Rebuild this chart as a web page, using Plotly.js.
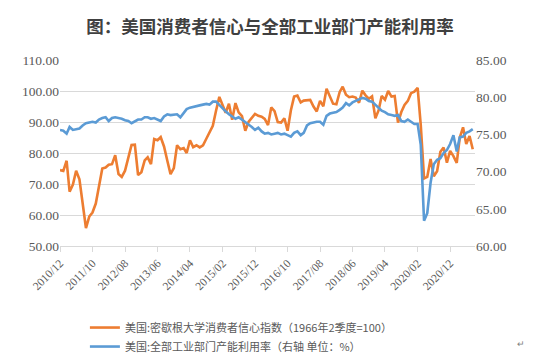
<!DOCTYPE html>
<html>
<head>
<meta charset="utf-8">
<script src="https://cdn.plot.ly/plotly-3.0.1.min.js"></script>
<style>html,body{margin:0;padding:0;background:#fff;}#chart{width:540px;height:364px;}</style>
</head>
<body>
<div id="chart"></div>
<script>
// Monthly, 2010/12 .. 2021/07
const startYear = 2010, startMonth = 12;
const sentiment = [
  74.5,
  74.2, 77.5, 67.5, 69.8, 74.3, 71.5, 63.7, 55.8, 59.5, 60.8, 63.7, 69.9,
  75.0, 75.3, 76.2, 76.4, 79.3, 73.2, 72.3, 74.3, 78.3, 82.6, 82.7, 72.9,
  73.8, 77.6, 78.6, 76.4, 84.5, 84.1, 85.1, 82.1, 77.5, 73.2, 75.1, 82.5,
  81.2, 81.6, 80.0, 84.1, 81.9, 82.5, 81.8, 82.5, 84.6, 86.9, 88.8, 93.6,
  98.1, 95.4, 93.0, 95.9, 90.7, 96.1, 93.1, 91.9, 87.2, 90.0, 91.3, 92.6,
  92.0, 91.7, 91.0, 89.0, 94.7, 93.5, 90.0, 89.8, 91.2, 87.2, 93.8, 98.2,
  98.5, 96.3, 96.9, 97.0, 97.1, 95.0, 93.4, 96.8, 95.1, 100.7, 98.5, 95.9,
  95.7, 99.7, 101.4, 98.8, 98.0, 98.2, 97.9, 96.2, 100.1, 98.6, 97.5, 98.3,
  91.2, 93.8, 98.4, 97.2, 100.0, 98.2, 98.4, 89.8, 93.2, 95.5, 96.8, 99.3,
  99.8, 101.0, 89.1, 71.8, 72.3, 78.1, 72.5, 74.1, 80.4, 81.8, 76.9, 80.7,
  79.0, 76.8, 84.9, 88.3, 82.9, 85.5, 81.2
];
const capacity = [
  75.6,
  75.5, 75.1, 76.0, 75.6, 75.7, 75.8, 76.2, 76.5, 76.6, 76.7, 76.6, 77.0,
  77.2, 77.3, 76.8, 77.2, 77.3, 77.2, 77.1, 76.9, 76.8, 76.5, 76.8, 77.0,
  77.0, 77.3, 77.3, 77.1, 77.2, 77.0, 76.8, 77.4, 77.7, 77.6, 77.6, 77.7,
  77.3, 77.9, 78.4, 78.6, 78.7, 78.9, 78.9, 79.0, 79.1, 79.0, 79.4, 79.4,
  78.9, 78.5, 78.1, 77.7, 77.4, 77.1, 77.3, 77.0, 76.7, 76.4, 76.0, 75.6,
  75.9, 75.4, 75.1, 75.2, 75.0, 75.1, 75.2, 75.0, 75.1, 74.9, 74.7, 75.2,
  75.4, 74.9, 75.2, 76.2, 76.5, 76.6, 76.7, 76.7, 76.3, 77.5, 77.8, 77.9,
  78.0, 78.3, 78.6, 79.2, 78.9, 79.3, 79.5, 79.8, 79.9, 79.8, 79.5, 79.4,
  79.0, 78.6, 78.2, 78.0, 77.7, 77.6, 77.5, 77.6, 76.8, 76.7, 77.0, 76.7,
  76.4, 76.4, 73.6, 63.4, 64.4, 68.5, 71.0, 71.6, 71.8, 72.5, 72.9, 73.7,
  74.9, 72.7, 74.6, 74.7, 75.2, 75.4, 75.7
];
const tickLabels = ['2010/12','2011/10','2012/08','2013/06','2014/04','2015/02','2015/12','2016/10','2017/08','2018/06','2019/04','2020/02','2020/12'];
const seriesNames = ['美国:密歇根大学消费者信心指数（1966年2季度=100）', '美国:全部工业部门产能利用率（右轴 单位：%）'];
const titleText = '图：美国消费者信心与全部工业部门产能利用率';

function monthDate(i) {
  const m0 = startMonth - 1 + i;
  const y = startYear + Math.floor(m0 / 12);
  const m = (m0 % 12) + 1;
  return y + '-' + String(m).padStart(2, '0') + '-01';
}
const dates = sentiment.map((_, i) => monthDate(i));
const tickVals = tickLabels.map(s => s.replace('/', '-') + '-01');

const numFont = {family: 'Liberation Serif, serif', size: 13.5, color: '#595959'};

const traces = [
  {x: dates, y: sentiment, name: seriesNames[0], type: 'scatter', mode: 'lines',
   line: {color: '#ED7D31', width: 2.6}, yaxis: 'y'},
  {x: dates, y: capacity, name: seriesNames[1], type: 'scatter', mode: 'lines',
   line: {color: '#5B9BD5', width: 2.6}, yaxis: 'y2'}
];

const layout = {
  width: 540, height: 364,
  margin: {l: 60, r: 65, t: 60, b: 118, autoexpand: false},
  paper_bgcolor: '#fff', plot_bgcolor: '#fff',
  showlegend: true,
  title: {text: titleText, x: 0.5, xanchor: 'center', xref: 'container', yref: 'container', y: 0.925, yanchor: 'middle',
          font: {family: 'Noto Sans CJK SC', size: 17.5, color: '#404040', weight: 'bold'}},
  xaxis: {type: 'date', range: ['2010-12-01', '2021-07-22'],
          tickmode: 'array', tickvals: tickVals, ticktext: tickLabels, tickangle: -45,
          ticks: 'outside', ticklen: 5, tickcolor: '#D9D9D9', tickwidth: 1,
          showline: true, linecolor: '#D9D9D9', linewidth: 1,
          showgrid: false, zeroline: false, automargin: false,
          tickfont: {family: 'Liberation Serif, serif', size: 11.5, color: '#595959'}},
  yaxis: {range: [50, 110], dtick: 10, tick0: 50, tickformat: '.2f', automargin: false,
          showgrid: true, gridcolor: '#D9D9D9', gridwidth: 1, zeroline: false,
          showline: false, ticks: '', tickfont: numFont},
  yaxis2: {range: [60, 85], dtick: 5, tick0: 60, tickformat: '.2f', overlaying: 'y', side: 'right', automargin: false,
           showgrid: false, zeroline: false, showline: false, ticks: '', tickfont: numFont},
  legend: {orientation: 'v', x: 0.06, xanchor: 'left', yref: 'container', y: 0.14, yanchor: 'top',
           font: {family: 'Noto Sans CJK SC', size: 11, color: '#595959'},
           tracegroupgap: 0, itemwidth: 30, bgcolor: 'rgba(0,0,0,0)'},
  annotations: [{text: '↵', xref: 'paper', yref: 'paper', x: 1.125, y: -0.57, showarrow: false,
                 font: {size: 9, color: '#808080'}}]
};

Plotly.newPlot('chart', traces, layout, {displayModeBar: false, staticPlot: true});
</script>
</body>
</html>
